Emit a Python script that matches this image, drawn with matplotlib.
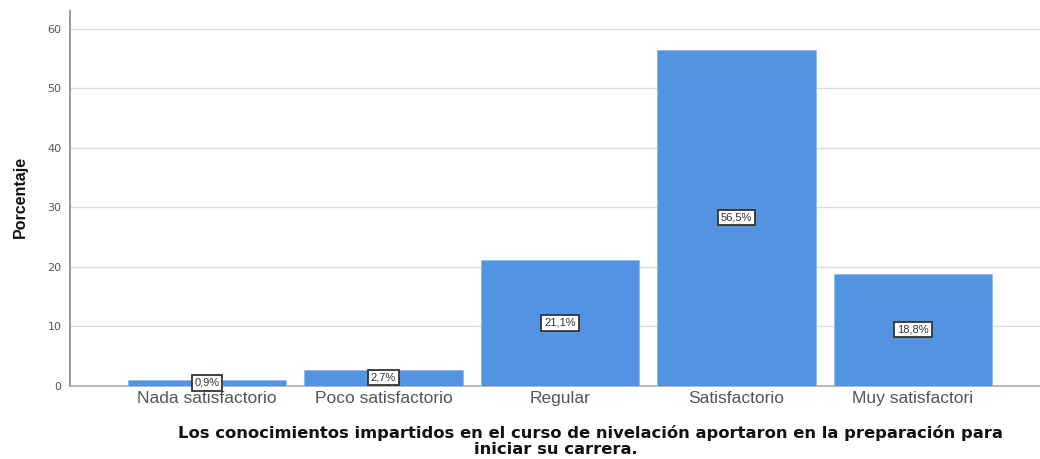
import matplotlib.pyplot as plt

categorias = ['Nada satisfactorio', 'Poco satisfactorio', 'Regular', 'Satisfactorio', 'Muy satisfactori']
porcentajes = [0.9, 2.7, 21.1, 56.5, 18.8]
etiquetas = ['0,9%', '2,7%', '21,1%', '56,5%', '18,8%']
yticks = [0, 10, 20, 30, 40, 50, 60]

fig = plt.figure(figsize=(10.4, 4.59), dpi=100)
ax = fig.add_axes([70/1040, 0.16, 1 - 70/1040, 0.816])

x = range(len(categorias))
ax.bar(x, porcentajes, width=0.9, color='#5294E2', edgecolor='#8fb8ec', linewidth=0.6, zorder=3)

for i, (v, t) in enumerate(zip(porcentajes, etiquetas)):
    ax.text(i, v / 2, t, ha='center', va='center', fontsize=8, color='#333333', zorder=4,
            family='Liberation Sans',
            bbox=dict(boxstyle='square,pad=0.25', facecolor='white', edgecolor='#333333', linewidth=1.3))

ax.set_xlim(-0.776, 4.72)
ax.set_ylim(0, 63)
ax.set_yticks(yticks)
ax.set_xticks(list(x))
ax.set_xticklabels(categorias, fontsize=12.5, color='#555555', family='Liberation Sans')
ax.tick_params(axis='y', length=0, labelsize=8, colors='#555555', pad=6)
ax.tick_params(axis='x', length=0, pad=4)
ax.yaxis.grid(True, color='#dcdcdc', linewidth=1.0, zorder=0)
ax.set_axisbelow(True)

for s in ['top', 'right']:
    ax.spines[s].set_visible(False)
ax.spines['left'].set_color('#888888')
ax.spines['bottom'].set_color('#aaaaaa')
ax.spines['left'].set_linewidth(1.2)
ax.spines['bottom'].set_linewidth(1.2)

fig.text(20/1040, 1 - 197/459, 'Porcentaje', rotation=90, ha='center', va='center',
         fontsize=11.5, fontweight='bold', family='Liberation Sans', color='#111111')
# titulo del eje x en dos lineas, como en el original
fig.text(590/1040, 1 - 433/459,
         'Los conocimientos impartidos en el curso de nivelación aportaron en la preparación para',
         ha='center', va='center', fontsize=11.8, fontweight='bold', color='#111111')
fig.text(556/1040, 1 - 450/459, 'iniciar su carrera.',
         ha='center', va='center', fontsize=11.8, fontweight='bold', color='#111111')

fig.savefig('out.png', dpi=100)
